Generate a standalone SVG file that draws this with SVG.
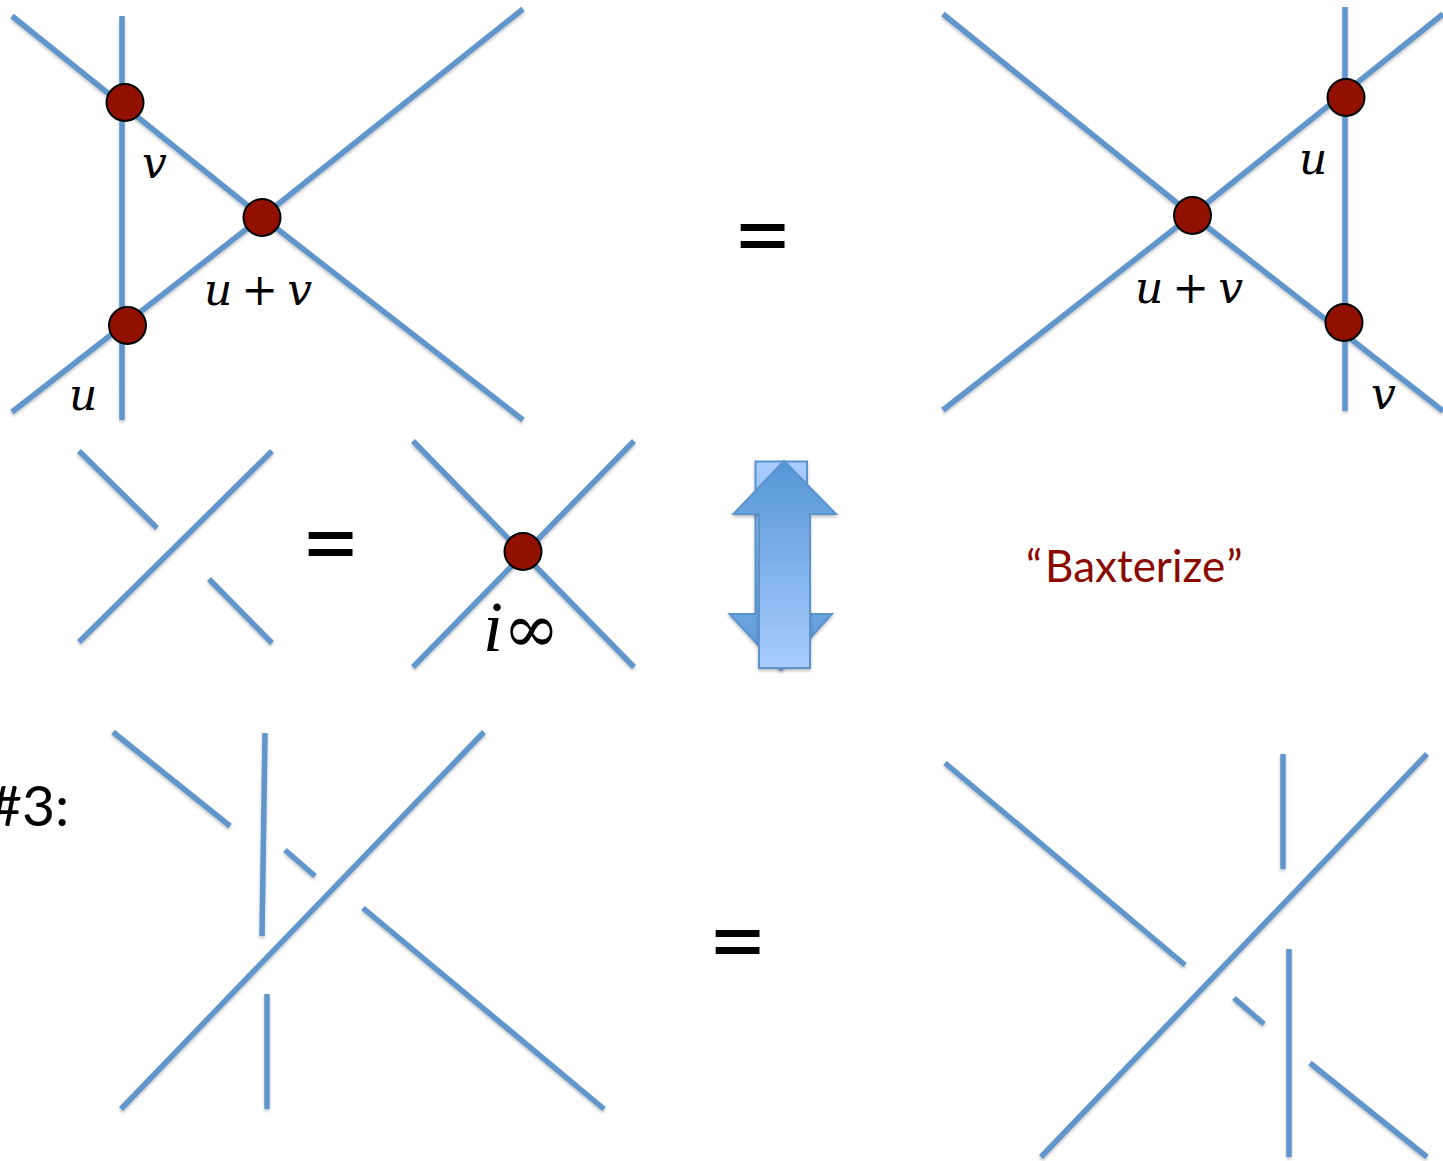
<svg xmlns="http://www.w3.org/2000/svg" width="1443" height="1161" viewBox="0 0 1443 1161">
<style>
.l{stroke:#6096cb;stroke-width:5.500;fill:none;filter:url(#s)}
.d{fill:#911000;stroke:#000;stroke-width:2}
.m{font-family:"DejaVu Serif",serif;font-style:italic;font-size:44px;fill:#000;word-spacing:-5px}
.e{font-family:"Lato",sans-serif;font-size:102px;fill:#000}
.t{font-family:"Lato",sans-serif;font-size:44px}
</style>
<defs>
<filter id="s" x="0" y="0" width="1443" height="1161" filterUnits="userSpaceOnUse"><feDropShadow dx="0" dy="2" stdDeviation="1.5" flood-color="#000" flood-opacity=".25"/></filter>
<linearGradient id="up" x1="0" y1="0" x2="0" y2="1"><stop offset="0" stop-color="#5596d6"/><stop offset="1" stop-color="#a9cdff"/></linearGradient>
<linearGradient id="dn" x1="0" y1="0" x2="0" y2="1"><stop offset="0" stop-color="#a9cdff"/><stop offset="1" stop-color="#5596d6"/></linearGradient>
</defs>
<g id="connectors">
<path class="l" d="M12 16L262 217L523 420"/>
<path class="l" d="M12 412L262 217L523 9"/>
<path class="l" d="M122 16V390"/>
<path class="l" d="M122 390V420"/>
<path class="l" d="M943 14L1192 215L1443 411"/>
<path class="l" d="M943 410L1192 215L1443 14"/>
<path class="l" d="M1345 7V411"/>
<path class="l" d="M79 451L157 528"/>
<path class="l" d="M209 579L272 643"/>
<path class="l" d="M79 642L272 451"/>
<path class="l" d="M413 441L634 667"/>
<path class="l" d="M413 667L634 441"/>
<path class="l" d="M113 732L230 826"/>
<path class="l" d="M285 850L315 876"/>
<path class="l" d="M363 908L604 1109"/>
<path class="l" d="M265 733L262 936"/>
<path class="l" d="M267 994V1109"/>
<path class="l" d="M121 1109L484 732"/>
<path class="l" d="M945 763L1185 965"/>
<path class="l" d="M1234 998L1264 1024"/>
<path class="l" d="M1310 1063L1427 1157"/>
<path class="l" d="M1283 754V869"/>
<path class="l" d="M1289 949V1157"/>
<path class="l" d="M1041 1157L1427 754"/>
</g>
<g id="n1"><circle class="d" cx="125" cy="102.500" r="18.500"/></g>
<g id="n2"><circle class="d" cx="262" cy="217.500" r="18.500"/></g>
<g id="n3"><circle class="d" cx="127.500" cy="325.500" r="18.500"/></g>
<g id="n4"><circle class="d" cx="1346" cy="97.500" r="18.500"/></g>
<g id="n5"><circle class="d" cx="1192.500" cy="215.500" r="18.500"/></g>
<g id="n6"><circle class="d" cx="1344" cy="322.500" r="18.500"/></g>
<g id="n7"><circle class="d" cx="523" cy="551.500" r="18.500"/></g>
<g id="arrow-down">
<path d="M755.500 461.500H807V614H832L781 670L729.500 614H755.500Z" fill="url(#dn)" stroke="#5b93cc" stroke-width="2" filter="url(#s)"/>
</g>
<g id="arrow-up">
<path d="M784 461L836 514H810V668H759V514H733.500Z" fill="url(#up)" stroke="#5b93cc" stroke-width="2" filter="url(#s)"/>
</g>
<g id="labels">
<text class="m" x="142" y="178">v</text>
<text class="m" x="204" y="305">u + v</text>
<text class="m" x="69" y="410">u</text>
<text class="m" x="1299" y="174">u</text>
<text class="m" x="1135" y="303">u + v</text>
<text class="m" x="1371" y="409">v</text>
<text class="m" x="483" y="651" style="font-family:'Liberation Serif',serif;font-size:72px">i<tspan style="font-family:'DejaVu Serif',serif;font-style:normal;font-size:68px" dy="1">∞</tspan></text>
<text class="e" x="733" y="271">=</text>
<text class="e" x="301" y="579">=</text>
<text class="e" x="708" y="977">=</text>
<text class="t" x="1026" y="582" fill="#8b0a00">“<tspan dx="3">Baxterize</tspan><tspan dx="2">”</tspan></text>
<text class="t" x="-11" y="826" style="font-size:57px" fill="#000">#3:</text>
</g>
</svg>
